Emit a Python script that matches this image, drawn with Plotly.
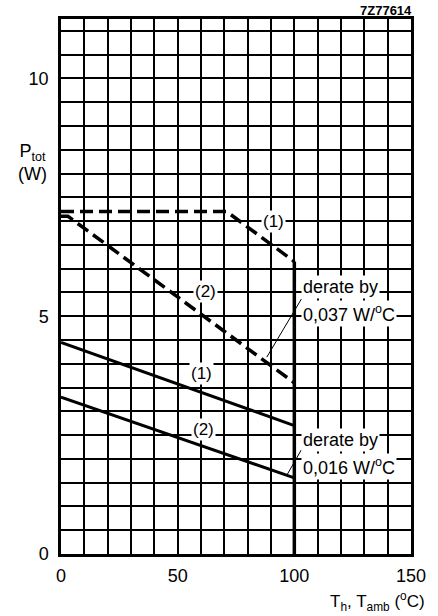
import plotly.graph_objects as go

# Derating curves: total power vs heatsink / ambient temperature
dash1_t = [0, 71, 100]
dash1_p = [7.2, 7.2, 6.15]
dash2_t = [0, 3, 100]
dash2_p = [7.1, 7.1, 3.6]
solid1_t = [0, 100]
solid1_p = [4.45, 2.7]
solid2_t = [0, 100]
solid2_p = [3.3, 1.6]
limit_t = [100, 100]
limit_p = [0, 6.15]

# leader lines from the derating notes to the curves
lead1_t = [103.0, 88.2]
lead1_p = [5.36, 4.14]
lead2_t = [103.0, 96.7]
lead2_p = [2.19, 1.65]

x_ticks = [0, 50, 100, 150]
y_ticks = [0, 5, 10]

FONT = "Liberation Sans, Arial, Helvetica, sans-serif"

W, H = 438, 616
L, R, T, B = 61, 23.5, 19, 62
PW, PH = W - L - R, H - T - B


def px(x):
    return (x - L) / PW


def py(y):
    return (H - B - y) / PH


fig = go.Figure()

dash_style = dict(color="black", width=3.5, dash="13px,6px")
solid_style = dict(color="black", width=3)

fig.add_trace(go.Scatter(x=dash1_t, y=dash1_p, mode="lines", line=dash_style))
fig.add_trace(go.Scatter(x=dash2_t, y=dash2_p, mode="lines", line=dash_style))
fig.add_trace(go.Scatter(x=solid1_t, y=solid1_p, mode="lines", line=solid_style))
fig.add_trace(go.Scatter(x=solid2_t, y=solid2_p, mode="lines", line=solid_style))
fig.add_trace(go.Scatter(x=limit_t, y=limit_p, mode="lines", line=dict(color="black", width=3.5)))
fig.add_trace(go.Scatter(x=lead1_t, y=lead1_p, mode="lines", line=dict(color="black", width=1)))
fig.add_trace(go.Scatter(x=lead2_t, y=lead2_p, mode="lines", line=dict(color="black", width=1)))


def label(x, y, text, size=17, xanchor="center"):
    fig.add_annotation(x=x, y=y, xref="x", yref="y", text=text, showarrow=False,
                       xanchor=xanchor, yanchor="middle", bgcolor="white", borderpad=1,
                       font=dict(family=FONT, size=size, color="black"))


label(91, 7.0, "(1)")
label(62, 5.53, "(2)")
label(60.3, 3.79, "(1)")
label(61, 2.61, "(2)")

label(102.7, 5.62, "derate by", size=18, xanchor="left")
label(102.7, 5.05, "0,037 W/<sup>o</sup>C", size=18, xanchor="left")
label(102.7, 2.4, "derate by", size=18, xanchor="left")
label(102.7, 1.83, "0,016 W/<sup>o</sup>C", size=18, xanchor="left")

# axis titles and drawing code, placed in page pixels
fig.add_annotation(x=px(32), y=py(162), xref="paper", yref="paper", showarrow=False,
                   text="P<sub>tot</sub><br>(W)", align="center", xanchor="center", yanchor="middle",
                   font=dict(family=FONT, size=18, color="black"))
fig.add_annotation(x=px(431), y=py(601), xref="paper", yref="paper", showarrow=False,
                   text="T<sub>h</sub>, T<sub>amb</sub> (<sup>o</sup>C)", xanchor="right", yanchor="middle",
                   font=dict(family=FONT, size=17, color="black"))
fig.add_annotation(x=px(418), y=py(10), xref="paper", yref="paper", showarrow=False,
                   text="<b>7Z77614</b>", xanchor="right", yanchor="middle",
                   font=dict(family=FONT, size=13, color="black"))

grid = dict(showgrid=True, gridcolor="black", gridwidth=1.5)

fig.update_xaxes(range=[0, 150], tickvals=x_ticks, ticktext=[str(v) for v in x_ticks],
                 showline=True, linecolor="black", linewidth=2.5, mirror=True,
                 zeroline=False, ticks="", ticklabelstandoff=4,
                 tickfont=dict(family=FONT, size=18, color="black"),
                 minor=dict(dtick=10, tick0=0, **grid), **grid)
fig.update_yaxes(range=[0, 11.25], tickvals=y_ticks, ticktext=[str(v) for v in y_ticks],
                 showline=True, linecolor="black", linewidth=2.5, mirror=True,
                 zeroline=False, ticks="", ticklabelstandoff=6,
                 tickfont=dict(family=FONT, size=18, color="black"),
                 minor=dict(dtick=0.5, tick0=0, **grid), **grid)

fig.update_layout(width=W, height=H, showlegend=False,
                  paper_bgcolor="white", plot_bgcolor="white",
                  margin=dict(l=L, r=R, t=T, b=B))

fig.write_html("out.html")
